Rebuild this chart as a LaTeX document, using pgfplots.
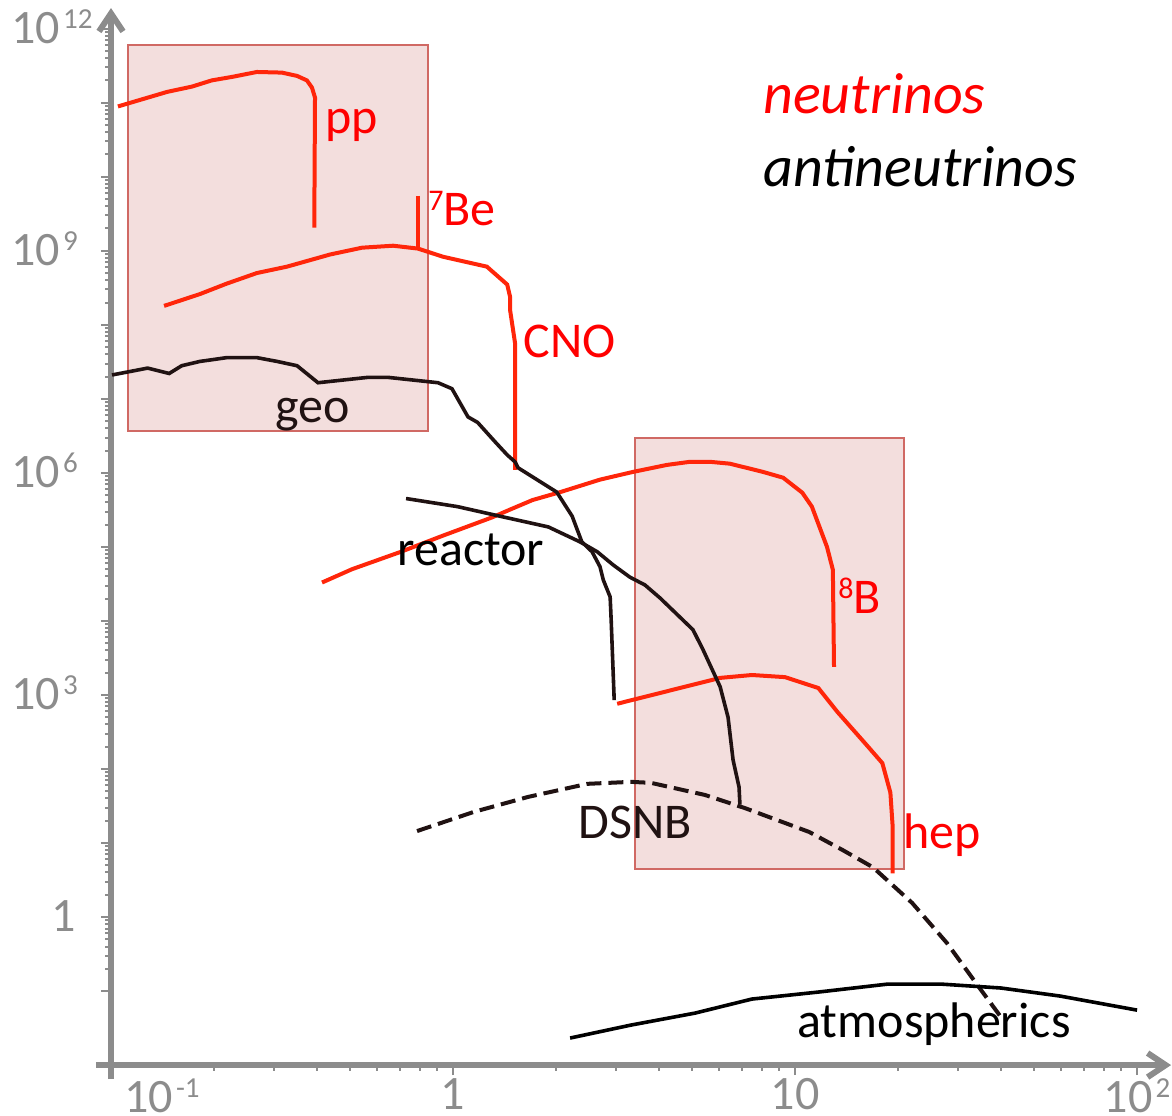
\documentclass[border=0pt]{standalone}
\usepackage{fontspec}
\setmainfont{Carlito}
\usepackage{pgfplots}
\pgfplotsset{compat=1.18}
\usetikzlibrary{arrows.meta}
\definecolor{axgray}{RGB}{140,140,140}
\definecolor{nured}{RGB}{255,38,10}
\definecolor{antiblk}{RGB}{32,18,18}
\definecolor{boxfill}{RGB}{243,222,221}
\definecolor{boxdraw}{RGB}{208,105,100}
\newcommand{\tsup}[1]{\hspace{1.5pt}\raisebox{7.5pt}{\fontsize{14.5}{14.5}\selectfont #1}}
\newcommand{\lsup}[1]{\raisebox{7.5pt}{\fontsize{15}{15}\selectfont #1}}
\begin{document}
\begin{tikzpicture}
\begin{axis}[
  scale only axis, width=530pt, height=528.5pt,
  xmode=log, ymode=log,
  xmin=0.1, xmax=125.7, ymin=0.01, ymax=1.9e12,
  axis x line*=bottom, axis y line*=left,
  axis line style={axgray, line width=3pt, -{Straight Barb[length=9pt,width=12pt]}},
  x axis line style={shorten <=-7.5pt},
  y axis line style={shorten <=-7pt},
  xtick={0.1,1,10,100},
  xticklabels={\hspace*{51pt}10\tsup{-1},1,10,10\tsup{2}},
  ytick={0.1,1,10,100,1e3,1e4,1e5,1e6,1e7,1e8,1e9,1e10,1e11,1e12},
  yticklabels={,\hspace*{20pt}1,,,10\tsup{3},,,10\tsup{6},,,10\tsup{9},,,10\tsup{12}},
  minor tick num=0,
  tick align=outside,
  major tick length=5pt,
  tick style={axgray, line width=1pt},
  yticklabel style={anchor=base west, xshift=-45pt, yshift=-7.4pt, inner sep=0pt, font=\fontsize{24}{24}\selectfont, text=axgray},
  xticklabel style={anchor=north, yshift=-1.5pt, inner sep=0pt, font=\fontsize{24}{24}\selectfont, text=axgray},
  clip=false,
]
% highlight boxes
\addplot[fill=boxfill, draw=boxdraw, line width=1pt] coordinates {(0.1121,6.08e11) (0.845,6.08e11) (0.845,3.70e6) (0.1121,3.70e6)} -- cycle;
\addplot[fill=boxfill, draw=boxdraw, line width=1pt] coordinates {(3.405,2.97e6) (20.83,2.97e6) (20.83,4.45) (3.405,4.45)} -- cycle;
% pp
\addplot[nured, line width=2pt] coordinates {(0.1048,8.9e10) (0.146,1.4e11) (0.1725,1.65e11) (0.197,2.0e11) (0.227,2.24e11) (0.267,2.6e11) (0.316,2.55e11) (0.350,2.3e11) (0.374,2.0e11) (0.387,1.6e11) (0.395,1.17e11) (0.393,2.05e9)};
% 7Be line
\addplot[nured, line width=2pt] coordinates {(0.79,5.5e9) (0.79,1.1e9)};
% CNO
\addplot[nured, line width=2pt] coordinates {(0.143,1.8e8) (0.182,2.6e8) (0.218,3.6e8) (0.267,5.0e8) (0.327,6.1e8) (0.437,8.9e8) (0.542,1.1e9) (0.668,1.17e9) (0.790,1.07e9) (0.935,8.3e8) (1.256,6.1e8) (1.44,3.5e8) (1.468,2.4e8) (1.468,1.6e8) (1.518,5.7e7) (1.518,1.1e6)};
% 8B
\addplot[nured, line width=2pt] coordinates {(0.414,3.3e4) (0.507,5.0e4) (0.700,8.5e4) (0.935,1.42e5) (1.30,2.5e5) (1.47,3.2e5) (1.71,4.3e5) (2.06,5.5e5) (2.69,8.1e5) (3.36,1.03e6) (4.22,1.28e6) (4.93,1.41e6) (5.64,1.41e6) (6.45,1.33e6) (8.06,1.03e6) (9.23,8.6e5) (10.5,5.4e5) (11.2,3.5e5) (12.4,1.0e5) (12.9,4.9e4) (13.0,2.4e3)};
% hep
\addplot[nured, line width=2pt] coordinates {(3.02,7.6e2) (6.04,1.7e3) (7.48,1.86e3) (9.35,1.74e3) (11.7,1.24e3) (13.3,5.9e2) (16.2,2.1e2) (18.0,1.2e2) (19.0,48) (19.3,16.5) (19.3,3.9)};
% geo
\addplot[antiblk, line width=1.8pt] coordinates {(0.1007,2.1e7) (0.128,2.6e7) (0.148,2.2e7) (0.161,2.8e7) (0.182,3.2e7) (0.218,3.6e7) (0.267,3.6e7) (0.306,3.2e7) (0.350,2.8e7) (0.403,1.65e7) (0.564,1.95e7) (0.645,1.95e7) (0.904,1.65e7) (0.993,1.37e7) (1.106,5.7e6) (1.18,4.8e6) (1.33,2.6e6) (1.44,1.75e6) (1.52,1.4e6) (1.55,1.17e6) (2.01,5.5e5) (2.23,2.6e5) (2.38,1.17e5) (2.55,8.6e4) (2.69,5.4e4) (2.75,3.58e4) (2.88,2.11e4) (2.90,1.03e4) (2.96,8.5e2)};
% reactor
\addplot[antiblk, line width=1.8pt] coordinates {(0.729,4.5e5) (1.03,3.5e5) (1.37,2.6e5) (1.90,1.86e5) (2.35,1.17e5) (2.64,8.6e4) (2.94,5.7e4) (3.29,3.9e4) (3.64,3.06e4) (4.03,2.04e4) (5.03,7.6e3) (5.38,4.1e3) (6.04,1.29e3) (6.37,5.0e2) (6.59,1.32e2) (6.86,57) (6.90,33)};
% DSNB
\addplot[antiblk, line width=2pt, dash pattern=on 7.5pt off 3.5pt] coordinates {(0.785,14.5) (1.15,26.3) (1.66,42) (2.47,63) (3.31,67) (3.79,65) (5.45,44.6) (7.14,29.6) (11.0,14.1) (13.8,8.0) (16.9,4.7) (22.0,1.55) (27.8,0.446) (35.0,0.103) (40.0,0.0445)};
% atmospherics
\addplot[black, line width=1.8pt] coordinates {(2.20,0.0232) (3.31,0.0347) (5.1,0.0504) (7.48,0.078) (11.7,0.097) (18.6,0.124) (26.9,0.124) (40.0,0.11) (59.6,0.0856) (100,0.0553)};
% labels
\node[anchor=base west, inner sep=0pt, text=red, font=\fontsize{25}{25}\selectfont] at (rel axis cs:0.2019,0.8817) {pp};
\node[anchor=base west, inner sep=0pt, text=red, font=\fontsize{25}{25}\selectfont] at (rel axis cs:0.2991,0.7947) {\lsup{7}Be};
\node[anchor=base west, inner sep=0pt, text=red, font=\fontsize{25}{25}\selectfont] at (rel axis cs:0.3887,0.6698) {CNO};
\node[anchor=base west, inner sep=0pt, text=antiblk, font=\fontsize{25}{25}\selectfont] at (rel axis cs:0.1547,0.6083) {geo};
\node[anchor=base west, inner sep=0pt, text=black, font=\fontsize{25}{25}\selectfont] at (rel axis cs:0.2698,0.4730) {reactor};
\node[anchor=base west, inner sep=0pt, text=red, font=\fontsize{25}{25}\selectfont] at (rel axis cs:0.6858,0.4276) {\lsup{8}B};
\node[anchor=base west, inner sep=0pt, text=red, font=\fontsize{25}{25}\selectfont] at (rel axis cs:0.7472,0.2053) {hep};
\node[anchor=base west, inner sep=0pt, text=antiblk, font=\fontsize{25}{25}\selectfont] at (rel axis cs:0.4406,0.2148) {DSNB};
\node[anchor=base west, inner sep=0pt, text=black, font=\fontsize{25}{25}\selectfont] at (rel axis cs:0.6472,0.0265) {atmospherics};
\node[anchor=base west, inner sep=0pt, text=red, font=\fontsize{29}{29}\selectfont\itshape] at (rel axis cs:0.6151,0.9007) {neutrinos};
\node[anchor=base west, inner sep=0pt, text=black, font=\fontsize{29}{29}\selectfont\itshape] at (rel axis cs:0.6151,0.8316) {antineutrinos};
\coordinate (bbsw) at (rel axis cs:-0.1047,-0.0473);
\coordinate (bbne) at (rel axis cs:1.0009,1.0076);
\end{axis}
\pgfresetboundingbox
\path (bbsw) rectangle (bbne);
\end{tikzpicture}
\end{document}
